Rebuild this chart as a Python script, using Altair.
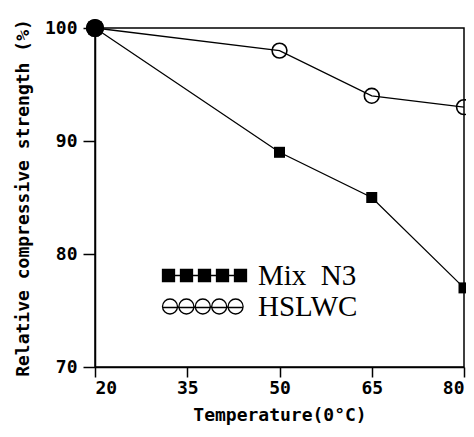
import altair as alt
import pandas as pd

temps = [20, 50, 65, 80]
mix_n3 = [100, 89, 85, 77]
hslwc = [100, 98, 94, 93]
series_names = ["Mix N3", "HSLWC"]
x_ticks = [20, 35, 50, 65, 80]
y_ticks = [70, 80, 90, 100]

rows = []
for t, v in zip(temps, mix_n3):
    rows.append({"series": series_names[0], "temp": t, "value": v})
for t, v in zip(temps, hslwc):
    rows.append({"series": series_names[1], "temp": t, "value": v})
df = pd.DataFrame(rows)

# legend symbols: five markers joined by a line
sq_centers = [-0.4, 1.4, 3.2, 5.0, 6.8]
sq_path = "M-0.4,0L6.8,0"
for c in sq_centers:
    sq_path += f"M{c-0.6:.2f},-0.6L{c+0.6:.2f},-0.6L{c+0.6:.2f},0.6L{c-0.6:.2f},0.6Z"
ci_centers = [-0.25, 1.39, 3.03, 4.67, 6.31]
r = 0.75
ci_path = ""
for c in ci_centers:
    ci_path += f"M{c-r:.2f},0A{r},{r} 0 1,0 {c+r:.2f},0A{r},{r} 0 1,0 {c-r:.2f},0Z"
ci_path += "M-1,0.1L7.06,0.1"

x_enc = alt.X("temp:Q", scale=alt.Scale(domain=[20, 80], nice=False),
              axis=alt.Axis(values=x_ticks, title="Temperature(0°C)", tickSize=10,
                            labelPadding=2, titlePadding=9))
y_enc = alt.Y("value:Q", scale=alt.Scale(domain=[70, 100], nice=False),
              axis=alt.Axis(values=y_ticks, title="Relative compressive strength (%)",
                            tickSize=12, labelPadding=6, titlePadding=12))

base = alt.Chart(df)

lines = base.mark_line(color="black", strokeWidth=1.3).encode(x=x_enc, y=y_enc, detail="series:N")

squares = base.transform_filter(
    (alt.datum.series == series_names[0]) & (alt.datum.temp != 20)
).mark_point(shape="square", filled=True, color="black", size=121, opacity=1).encode(x="temp:Q", y="value:Q")

circles = base.transform_filter(
    (alt.datum.series == series_names[1]) & (alt.datum.temp != 20)
).mark_point(shape="circle", filled=False, stroke="black", strokeWidth=1.6, size=220, opacity=1).encode(x="temp:Q", y="value:Q")

start = base.transform_filter(alt.datum.temp == 20).mark_point(
    shape="circle", filled=True, color="black", size=330, opacity=1
).encode(x="temp:Q", y="value:Q")


def leg():
    return alt.Legend(title=None, orient="none", legendX=63, legendY=233,
                      symbolSize=400, symbolOpacity=1, symbolStrokeWidth=1.3,
                      labelOffset=71, labelFont="Liberation Serif", labelFontSize=29,
                      labelColor="black", labelLimit=300, rowPadding=1,
                      labelExpr="replace(datum.label, ' ', '\u00a0 ')")


legend_layer = base.mark_point(opacity=0).encode(
    x="temp:Q", y="value:Q",
    shape=alt.Shape("series:N", scale=alt.Scale(domain=series_names, range=[sq_path, ci_path]),
                    legend=leg()),
    fill=alt.Fill("series:N", scale=alt.Scale(domain=series_names, range=["black", "white"]),
                  legend=leg()),
    stroke=alt.Stroke("series:N", scale=alt.Scale(domain=series_names, range=["black", "black"]),
                      legend=leg()),
)

chart = alt.layer(lines, squares, circles, start, legend_layer).properties(
    width=369, height=339,
    autosize=alt.AutoSizeParams(type="none"),
    padding={"left": 87, "top": 20, "right": 2, "bottom": 62},
).configure_view(stroke="black", strokeWidth=1.5).configure_axis(
    grid=False, domainColor="black", domainWidth=1.5, tickColor="black", tickWidth=1.5,
    labelFont="DejaVu Sans Mono", labelFontWeight="bold", labelFontSize=18, labelColor="black",
    titleFont="DejaVu Sans Mono", titleFontWeight="bold", titleFontSize=18, titleColor="black",
)

chart.save("out.html", embed_options={"renderer": "svg", "actions": False})
